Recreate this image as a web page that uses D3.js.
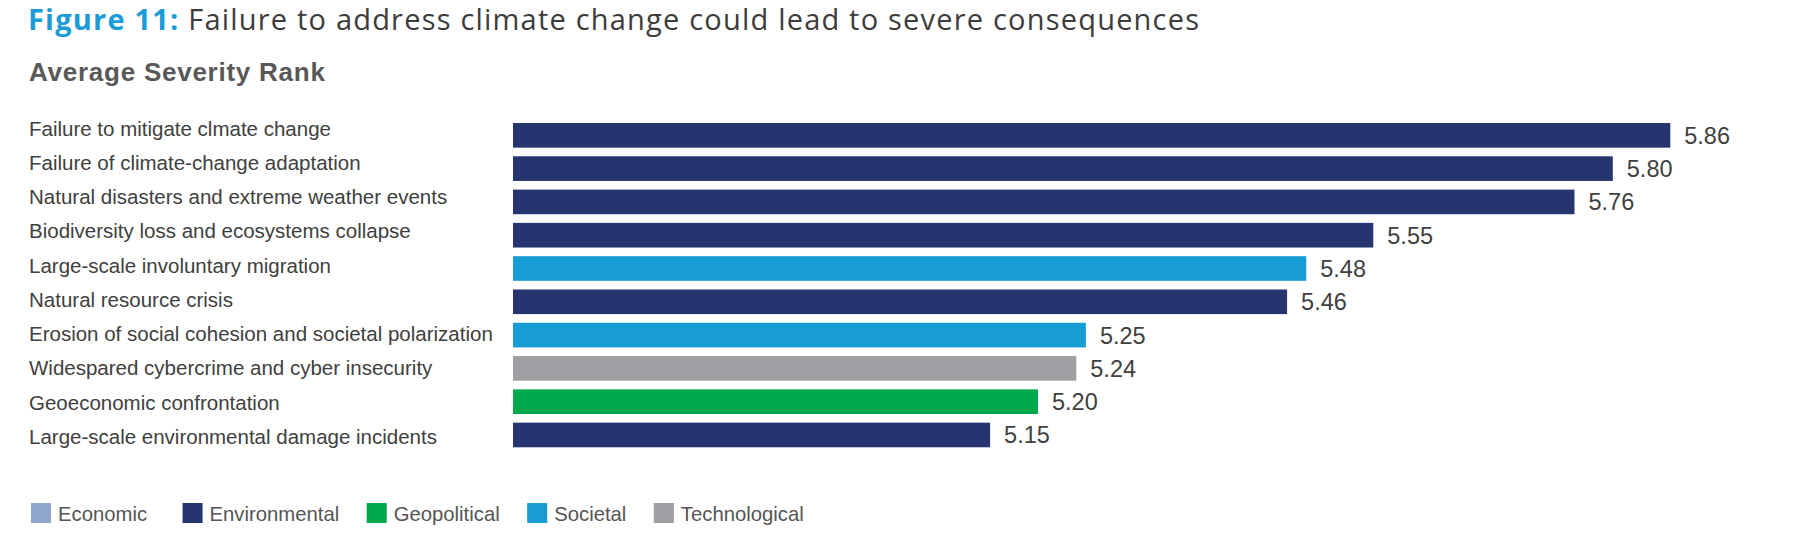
<!DOCTYPE html>
<html>
<head>
<meta charset="utf-8">
<script src="https://cdn.jsdelivr.net/npm/d3@7"></script>
<style>
  body { margin: 0; background: #fff; }
  svg { display: block; }
</style>
</head>
<body>
<div id="chart"></div>
<script>
// Data

var categories = [
  "Failure to mitigate clmate change",
  "Failure of climate-change adaptation",
  "Natural disasters and extreme weather events",
  "Biodiversity loss and ecosystems collapse",
  "Large-scale involuntary migration",
  "Natural resource crisis",
  "Erosion of social cohesion and societal polarization",
  "Widespared cybercrime and cyber insecurity",
  "Geoeconomic confrontation",
  "Large-scale environmental damage incidents"
];
var values = [5.86, 5.80, 5.76, 5.55, 5.48, 5.46, 5.25, 5.24, 5.20, 5.15];
var riskTypes = ["Environmental", "Environmental", "Environmental", "Environmental", "Societal",
                 "Environmental", "Societal", "Technological", "Geopolitical", "Environmental"];
var legendKeys = ["Economic", "Environmental", "Geopolitical", "Societal", "Technological"];
var legendColors = ["#8ea6cb", "#26356f", "#00a84c", "#189cd6", "#9e9fa3"];

var rows = categories.map(function(c, i) {
  return {name: c, value: values[i], type: riskTypes[i]};
});

var width = 1798, height = 543;

var svg = d3.select("#chart").append("svg")
    .attr("width", width)
    .attr("height", height);

var color = d3.scaleOrdinal()
    .domain(legendKeys)
    .range(legendColors);

var x = d3.scaleLinear()
    .domain([4.652, 5.9])
    .range([513, 1708.6]);

var y = d3.scaleBand()
    .domain(categories)
    .range([123, 447.3])
    .paddingInner(0.26)
    .paddingOuter(0);

// labels sit on a slightly wider spacing than the bars
var yLabel = d3.scalePoint()
    .domain(categories)
    .range([135.5, 443.8]);

// Title
var title = svg.append("text")
    .attr("x", 28)
    .attr("y", 30)
    .style("font-family", "'Open Sans', sans-serif")
    .style("font-size", "29px")
    .style("letter-spacing", "1.2px");
title.append("tspan")
    .style("font-weight", "bold")
    .style("fill", "#1b9bd7")
    .text("Figure 11:");
title.append("tspan")
    .style("fill", "#3c3c3c")
    .text(" Failure to address climate change could lead to severe consequences");

svg.append("text")
    .attr("x", 29)
    .attr("y", 81)
    .style("font-family", "'Liberation Sans', Arial, sans-serif")
    .style("font-weight", "bold")
    .style("font-size", "26px")
    .style("letter-spacing", "0.75px")
    .style("fill", "#595959")
    .text("Average Severity Rank");

// Category labels
svg.append("g").selectAll("text")
    .data(rows)
  .enter().append("text")
    .attr("x", 29)
    .attr("y", function(d) { return yLabel(d.name); })
    .style("font-family", "'Liberation Sans', Arial, sans-serif")
    .style("font-size", "20.5px")
    .style("fill", "#404040")
    .text(function(d) { return d.name; });

// Bars
svg.append("g").selectAll("rect")
    .data(rows)
  .enter().append("rect")
    .attr("x", x(x.domain()[0]))
    .attr("y", function(d) { return y(d.name); })
    .attr("width", function(d) { return x(d.value) - x(x.domain()[0]); })
    .attr("height", y.bandwidth())
    .style("fill", function(d) { return color(d.type); });

// Value labels
svg.append("g").selectAll("text")
    .data(rows)
  .enter().append("text")
    .attr("x", function(d) { return x(d.value) + 14; })
    .attr("y", function(d) { return y(d.name) + y.bandwidth() / 2; })
    .attr("dy", "0.36em")
    .style("font-family", "'Liberation Sans', Arial, sans-serif")
    .style("font-size", "23.5px")
    .style("fill", "#404040")
    .text(function(d) { return d3.format(".2f")(d.value); });

// Legend, laid out left to right by text width
var legend = svg.append("g").attr("transform", "translate(31,503)");
var lx = 0;
legendKeys.forEach(function(k, i) {
  var item = legend.append("g").attr("transform", "translate(" + lx + ",0)");
  item.append("rect")
      .attr("width", 20)
      .attr("height", 20)
      .style("fill", color(k));
  var t = item.append("text")
      .attr("x", 27)
      .attr("y", 18)
      .style("font-family", "'Liberation Sans', Arial, sans-serif")
      .style("font-size", "20.3px")
      .style("fill", "#555555")
      .text(k);
  // the first entry has a wider gap after it in the original
  lx += 27 + t.node().getComputedTextLength() + (i === 0 ? 35.5 : 27.5);
});
</script>
</body>
</html>
